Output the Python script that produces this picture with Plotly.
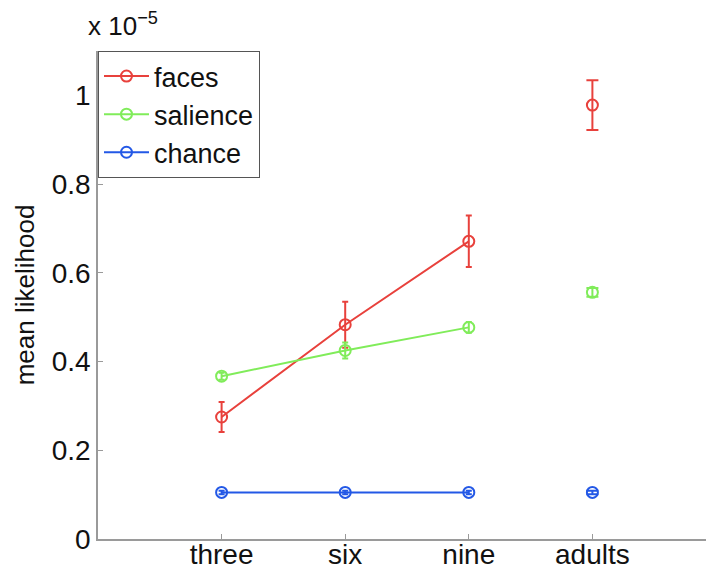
import plotly.graph_objects as go

# Mean likelihood values, in units of 1e-5
groups = ["three", "six", "nine", "adults"]
faces = [0.275, 0.483, 0.671, 0.978]
faces_err = [0.034, 0.052, 0.058, 0.056]
salience = [0.367, 0.425, 0.477, 0.556]
salience_err = [0.008, 0.018, 0.012, 0.010]
chance = [0.105, 0.105, 0.105, 0.105]
chance_err = [0.004, 0.004, 0.004, 0.004]

y_ticks = [0, 0.2, 0.4, 0.6, 0.8, 1.0]
y_ticktext = ["0", "0.2", "0.4", "0.6", "0.8", "1"]

series = [
    ("faces", faces, faces_err, "#e8413c"),
    ("salience", salience, salience_err, "#80ec5a"),
    ("chance", chance, chance_err, "#2358e6"),
]

pos = [1, 2, 3, 4]
fig = go.Figure()

for name, vals, errs, col in series:
    # infant groups: connected
    fig.add_trace(go.Scatter(
        x=pos[:3], y=vals[:3],
        error_y=dict(type="data", array=errs[:3], color=col, thickness=2, width=3),
        mode="lines+markers",
        line=dict(color=col, width=2),
        marker=dict(symbol="circle-open", size=11, color=col, line=dict(width=2)),
        name=name, legendgroup=name,
    ))
    # adults: separate point
    fig.add_trace(go.Scatter(
        x=pos[3:], y=vals[3:],
        error_y=dict(type="data", array=errs[3:], color=col, thickness=2, width=6),
        mode="markers",
        marker=dict(symbol="circle-open", size=11, color=col, line=dict(width=2)),
        name=name, legendgroup=name, showlegend=False,
    ))

axis_col = "#9a9a9a"
fig.update_layout(
    width=714, height=570,
    margin=dict(l=90, r=6, t=43, b=39),
    paper_bgcolor="white", plot_bgcolor="white",
    font=dict(family="Liberation Sans, Arial, sans-serif", size=28, color="#111"),
    showlegend=True,
    legend=dict(x=0.0, y=1.0, xanchor="left", yanchor="top",
                bordercolor="#555", borderwidth=1, bgcolor="white",
                font=dict(size=27), tracegroupgap=0, itemwidth=45),
    xaxis=dict(range=[0, 5], tickvals=pos, ticktext=groups,
               showline=True, linecolor=axis_col, linewidth=1.5,
               ticks="inside", ticklen=5, tickcolor=axis_col,
               tickfont=dict(size=28), ticklabelstandoff=-10,
               showgrid=False, zeroline=False, mirror=False),
    yaxis=dict(range=[0, 1.1], tickvals=y_ticks, ticktext=y_ticktext,
               showline=True, linecolor=axis_col, linewidth=1.5,
               ticks="inside", ticklen=5, tickcolor=axis_col,
               tickfont=dict(size=28),
               showgrid=False, zeroline=False, mirror=False,
               title=dict(text="mean likelihood", standoff=10, font=dict(size=26))),
    annotations=[dict(
        text="x 10<sup>−5</sup>", xref="paper", yref="paper",
        x=-0.02, y=1.0, xanchor="left", yanchor="bottom", yshift=8,
        showarrow=False, font=dict(size=26),
    )],
)

fig.write_html("out.html")
